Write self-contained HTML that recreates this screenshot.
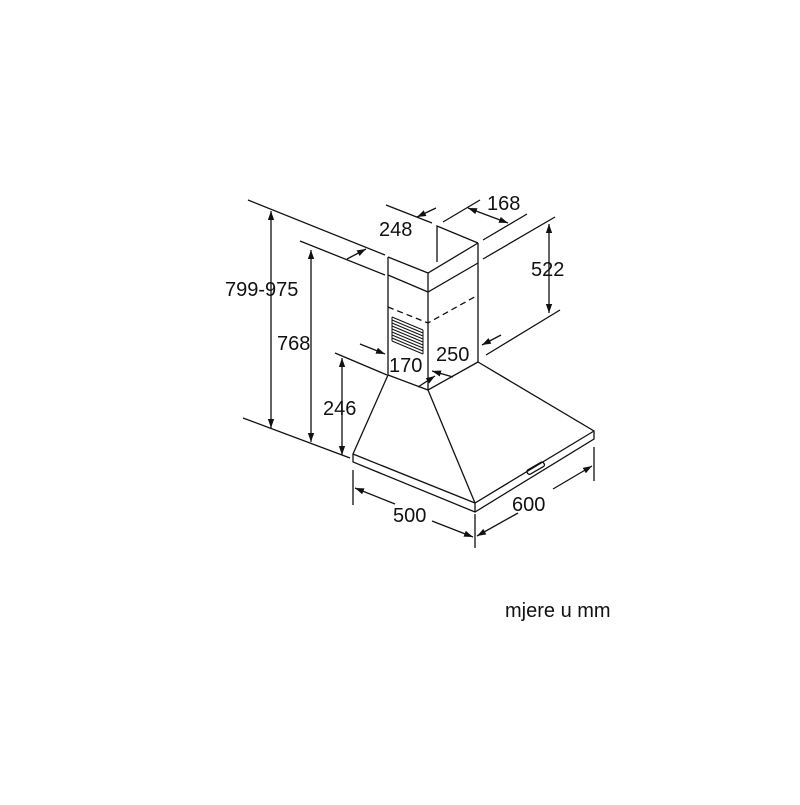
<!DOCTYPE html>
<html><head><style>
html,body{margin:0;padding:0;background:#fff;}
svg text{font-family:"Liberation Sans",sans-serif;font-size:20px;fill:#111;}
</style></head><body>
<svg width="800" height="800" viewBox="0 0 800 800" xmlns="http://www.w3.org/2000/svg">
<defs>
<marker id="a" viewBox="0 0 10 10" refX="10" refY="5" markerWidth="9" markerHeight="9" orient="auto-start-reverse" markerUnits="userSpaceOnUse"><path d="M0,1.5 L10,5 L0,8.5 z" fill="#111"/></marker>
</defs>
<g stroke="#111" stroke-width="1.3" fill="none">
<path d="M437,262 L437,226 L478,243"/>
<path d="M388,257 L428,273 L478,243"/>
<path d="M388,257 L388,375"/>
<path d="M428,273 L428,390"/>
<path d="M478,243 L478,362"/>
<path d="M388,275 L428,292 L478,263"/>
<path d="M388,307 L428,323 L478,295" stroke-dasharray="6,4"/>
<g stroke-width="1">
<path d="M392,317 L423,330 M392,320 L423,333 M392,323 L423,336 M392,326 L423,339 M392,329 L423,342 M392,332 L423,345 M392,335 L423,348 M392,338 L423,351 M392,341 L423,354"/>
<path d="M392,317 L392,341 M423,330 L423,354"/>
</g>
<path d="M388,375 L353,454 L353,462 L475,512 L594,439 L594,431 L478,362"/>
<path d="M388,375 L428,390 L478,362"/>
<path d="M428,390 L475,503"/>
<path d="M353,454 L475,503 L594,431"/>
<path d="M475,503 L475,512"/>
<rect x="526" y="466" width="19" height="5" rx="2" transform="rotate(-30 535 468)"/>
<path d="M248,200 L385,255"/>
<path d="M300,241 L385,275"/>
<path d="M335,353 L387,375"/>
<path d="M243,418 L350,458"/>
<path d="M271,211 L271,428" marker-start="url(#a)" marker-end="url(#a)"/>
<path d="M311,250 L311,442" marker-start="url(#a)" marker-end="url(#a)"/>
<path d="M342,358 L342,455" marker-start="url(#a)" marker-end="url(#a)"/>
<path d="M386,205 L432,223"/>
<path d="M436,208 L417,217" marker-end="url(#a)"/>
<path d="M347,259 L366,249" marker-end="url(#a)"/>
<path d="M443,222 L480,200"/>
<path d="M483,240 L527,214"/>
<path d="M468,208 L508,223" marker-start="url(#a)" marker-end="url(#a)"/>
<path d="M483,259 L555,217"/>
<path d="M486,355 L560,310"/>
<path d="M549,224 L549,313" marker-start="url(#a)" marker-end="url(#a)"/>
<path d="M360,344 L385,354" marker-end="url(#a)"/>
<path d="M418,387 L435,376" marker-end="url(#a)"/>
<path d="M501,335 L482,345" marker-end="url(#a)"/>
<path d="M453,377 L432,371" marker-end="url(#a)"/>
<path d="M353,470 L353,505"/>
<path d="M475,514 L475,548"/>
<path d="M395,504 L355,488" marker-end="url(#a)"/>
<path d="M432,521 L473,537" marker-end="url(#a)"/>
<path d="M594,447 L594,481"/>
<path d="M518,513 L477,536" marker-end="url(#a)"/>
<path d="M553,489 L592,466" marker-end="url(#a)"/>
</g>
<text x="225" y="296">799-975</text>
<text x="277" y="350">768</text>
<text x="323" y="415">246</text>
<text x="379" y="236">248</text>
<text x="487" y="210">168</text>
<text x="531" y="276">522</text>
<text x="389" y="372">170</text>
<text x="436" y="361">250</text>
<text x="393" y="522">500</text>
<text x="512" y="511">600</text>
<text x="505" y="617">mjere u mm</text>
</svg>
</body></html>
